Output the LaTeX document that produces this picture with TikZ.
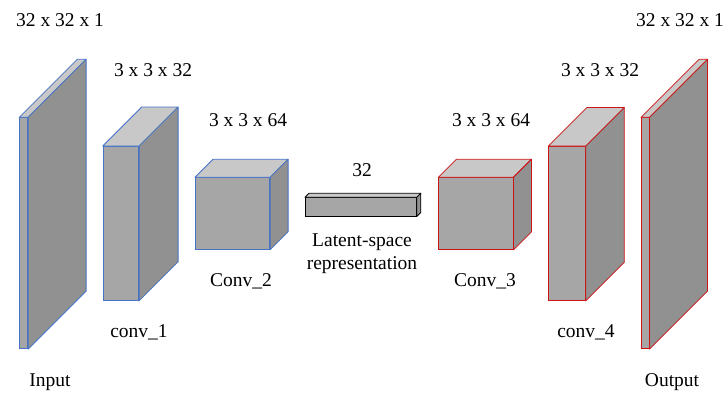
\documentclass[tikz,border=0pt]{standalone}
\usepackage{fontspec}
\setmainfont{Liberation Serif}
\usepackage{xcolor}
\usepackage{tikz}
\usetikzlibrary{positioning,calc}

\definecolor{encblue}{RGB}{68,114,196}
\definecolor{decred}{RGB}{204,20,20}
\definecolor{facegray}{RGB}{166,166,166}
\definecolor{sidegray}{RGB}{145,145,145}
\definecolor{topgray}{RGB}{200,200,200}

\begin{document}
\begin{tikzpicture}[x=1pt,y=-1pt,
    lbl/.style={font=\fontsize{19.5}{23}\selectfont, align=center, inner sep=0pt},
    front/.style={draw=#1, fill=facegray, line width=0.8pt, inner sep=0pt, anchor=north west}]
    \useasboundingbox (0,0) rectangle (727,397);

    % Layers: x / y / width / height / depth / border colour
    \foreach \x/\y/\w/\h/\d/\c [count=\i] in {
        19.3/117.3/8/231/58/encblue,
        102.7/146/35.6/154/39/encblue,
        195/177.3/74.3/71.7/18/encblue,
        305/197.3/111/18.4/4/black,
        438.3/177.3/74.4/71.7/18/decred,
        548.3/146/36.7/154/38.5/decred,
        641/117.3/7.7/231/58/decred} {
        \node [front=\c, minimum width=\w pt, minimum height=\h pt] (layer\i) at (\x,\y) {};
        \draw [\c, fill=topgray, line width=0.8pt, line join=round]
            (layer\i.north west) -- ++(\d,-\d) -- ($(layer\i.north east)+(\d,-\d)$) -- (layer\i.north east) -- cycle;
        \draw [\c, fill=sidegray, line width=0.8pt, line join=round]
            (layer\i.north east) -- ++(\d,-\d) -- ($(layer\i.south east)+(\d,-\d)$) -- (layer\i.south east) -- cycle;
    }

    % Sizes
    \node [lbl] (size1) at (60,20) {32 x 32 x 1};
    \node [lbl] (size2) at (153,70) {3 x 3 x 32};
    \node [lbl] (size3) at (248,120) {3 x 3 x 64};
    \node [lbl] (size4) at (362,170) {32};
    \node [lbl] (size5) at (491,120) {3 x 3 x 64};
    \node [lbl] (size6) at (600,70) {3 x 3 x 32};
    \node [lbl] (size7) at (680,20) {32 x 32 x 1};

    % Names
    \node [lbl] (name1) at (50,382) {Input};
    \node [lbl] (name2) at (139,332) {conv\_1};
    \node [lbl] (name3) at (241,281) {Conv\_2};
    \node [lbl] (name4) at (362,254) {Latent-space\\representation};
    \node [lbl] (name5) at (485,281) {Conv\_3};
    \node [lbl] (name6) at (586,332) {conv\_4};
    \node [lbl] (name7) at (672,382) {Output};
\end{tikzpicture}
\end{document}
